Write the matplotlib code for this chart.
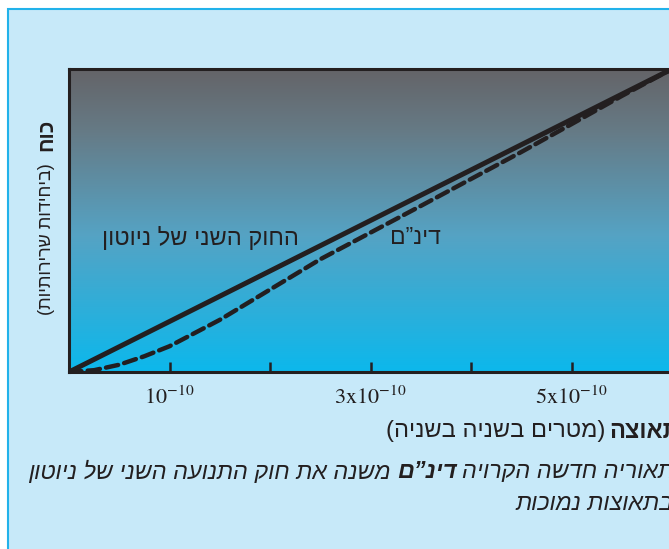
import numpy as np
import matplotlib
matplotlib.use('Agg')
import matplotlib.pyplot as plt
from matplotlib.colors import LinearSegmentedColormap
from matplotlib.patches import Rectangle

# ---------------- data ----------------
accel = [0, 0.25, 0.5, 0.75, 1, 1.5, 2, 2.5, 3, 3.5, 4, 4.5, 5, 5.5, 6]   # units of 1e-10 m/s^2
dinam_force = [0, 0.006, 0.024, 0.052, 0.085, 0.172, 0.272, 0.372, 0.460,
               0.548, 0.637, 0.726, 0.818, 0.911, 1.0]
newton_accel = [0, 6]
newton_force = [0, 1]
tick_pos = [1, 2, 3, 4, 5]
tick_labels = [r'$10^{-10}$', '', r'$3\mathrm{x}10^{-10}$', '', r'$5\mathrm{x}10^{-10}$']

label_newton = 'החוק השני של ניוטון'
label_dinam = 'דינ”ם'
xlabel_bold = 'תאוצה'
xlabel_rest = '(מטרים בשניה בשניה)'
ylabel_bold = 'כוח'
ylabel_rest = '(ביחידות שרירותיות)'
caption1 = [('תאוריה חדשה הקרויה', 'normal'), ('דינ”ם', 'bold'),
            ('משנה את חוק התנועה השני של ניוטון', 'normal')]
caption2 = [('בתאוצות נמוכות', 'normal')]

HEB = ['Liberation Sans', 'DejaVu Sans']
plt.rcParams['mathtext.fontset'] = 'stix'


def vis(s):
    """logical RTL string -> visual LTR order"""
    r = s[::-1]
    return r.translate(str.maketrans('()', ')('))


W, H = 669, 549
fig = plt.figure(figsize=(W / 100, H / 100), dpi=100, facecolor='white')


def fx(px):
    return px / W


def fy(py):
    return 1 - py / H


# outer light-blue panel
panel = Rectangle((fx(8), fy(600)), 1.2, fy(9) - fy(600),
                  transform=fig.transFigure, facecolor='#c7e9f9',
                  edgecolor='#22b2ea', lw=1.5, zorder=-5)
fig.patches.append(panel)

ppu = 100.5  # pixels per unit on x
xmax = 6.5
ax = fig.add_axes([fx(69), fy(372), xmax * ppu / W, (372 - 69) / H])
ax.set_zorder(2)
ax.set_xlim(0, xmax)
ax.set_ylim(0, 1)

cmap = LinearSegmentedColormap.from_list('bg', [(0.0, '#0cb8ec'), (0.45, '#55a3c4'),
                                                (0.8, '#667a85'), (1.0, '#646468')])
grad = np.linspace(0, 1, 256).reshape(-1, 1)
ax.imshow(grad, cmap=cmap, origin='lower', aspect='auto',
          extent=[0, xmax, 0, 1], zorder=0)

ax.plot(newton_accel, newton_force, color='#231f20', lw=3.6,
        solid_capstyle='round', zorder=3)
ax.plot(accel, dinam_force, color='#231f20', lw=3.2, dashes=(2.8, 1.4),
        dash_capstyle='round', zorder=3)

for s in ['left', 'bottom', 'top']:
    ax.spines[s].set_linewidth(2.2)
    ax.spines[s].set_color('#231f20')
ax.spines['right'].set_visible(False)
ax.set_yticks([])
ax.set_xticks(tick_pos)
ax.set_xticklabels(tick_labels)
ax.tick_params(axis='x', direction='in', length=7, width=1.8, color='#231f20',
               pad=10, labelsize=16, labelcolor='#231f20')

# in-plot labels
fig.text(fx(200), fy(238), vis(label_newton), family=HEB, fontsize=17,
         color='#231f20', ha='center', va='center', zorder=5)
fig.text(fx(415), fy(238), vis(label_dinam), family=HEB, fontsize=16.5,
         color='#231f20', ha='center', va='center', zorder=5)

# x label
fig.text(fx(605), fy(431), vis(xlabel_rest), family=HEB, fontsize=17,
         color='#231f20', ha='right', va='center')
fig.text(fx(609), fy(431), vis(xlabel_bold), family=HEB, fontsize=17,
         fontweight='bold', color='#231f20', ha='left', va='center')

# y label (rotated)
fig.text(fx(47), fy(119), vis(ylabel_bold), family=HEB, fontsize=15,
         fontweight='bold', color='#231f20', rotation=90, ha='center', va='top')
fig.text(fx(47), fy(163), vis(ylabel_rest), family=HEB, fontsize=13,
         color='#231f20', rotation=90, ha='center', va='top')

# caption, laid out right-to-left
renderer = fig.canvas.get_renderer()


def rtl_line(segments, x_right, y, size):
    x = x_right
    for i, (txt, w) in enumerate(segments):
        t = fig.text(fx(x), fy(y), vis(txt), family=HEB, fontsize=size,
                     fontweight=w, style='italic', color='#231f20',
                     ha='right', va='center')
        bb = t.get_window_extent(renderer)
        x -= bb.width + size * 0.35


rtl_line(caption1, 674, 472, 16.8)
rtl_line(caption2, 674, 504, 16.8)

fig.savefig('out.png', dpi=100, facecolor='white')
